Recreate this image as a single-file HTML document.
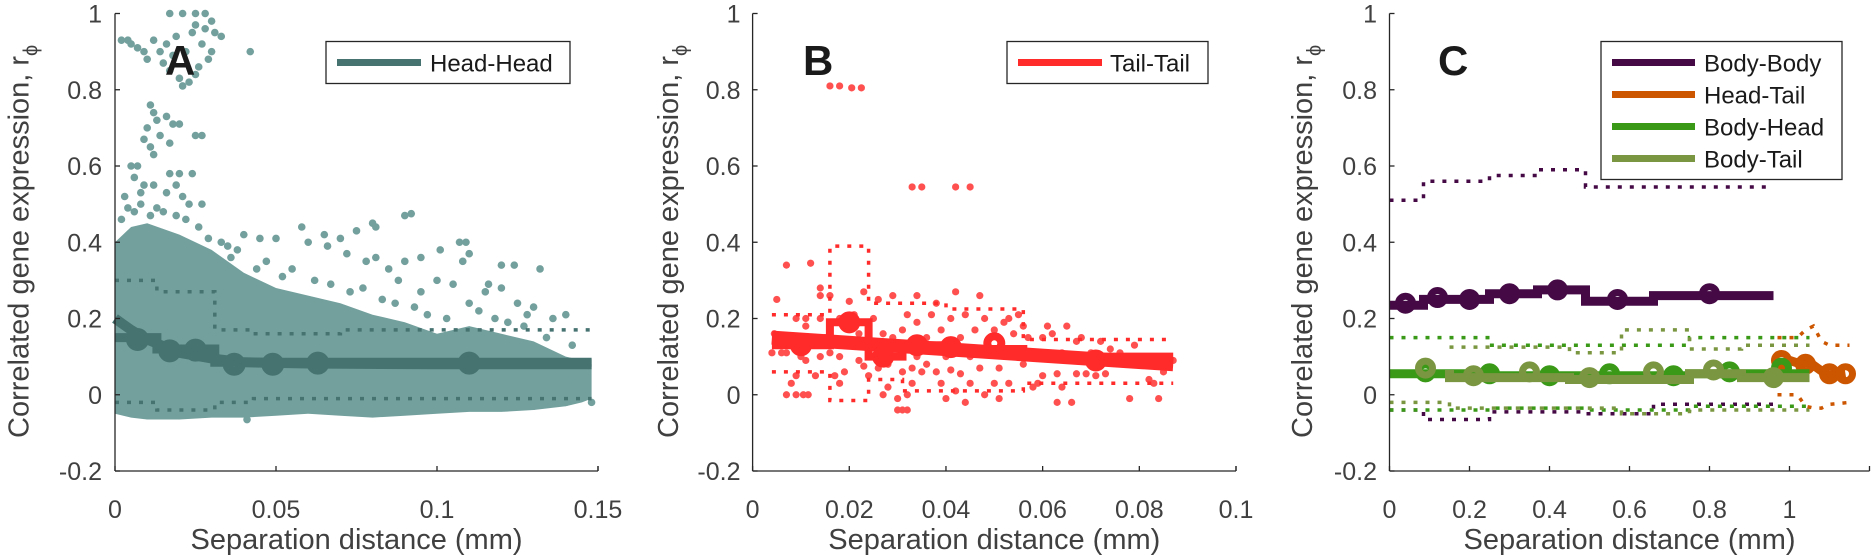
<!DOCTYPE html>
<html><head><meta charset="utf-8"><style>
html,body{margin:0;padding:0;background:#fff}
svg{display:block;font-family:"Liberation Sans",Arial,sans-serif}
</style></head><body>
<svg id="fig" width="1874" height="556" viewBox="0 0 1874 556" xmlns="http://www.w3.org/2000/svg"></svg>
<script>
// ---------- DATA ----------
const yTicks=[-0.2,0,0.2,0.4,0.6,0.8,1];
const yTickLabels=["-0.2","0","0.2","0.4","0.6","0.8","1"];
const aXTicks=[0,0.05,0.1,0.15];
const aXTickLabels=["0","0.05","0.1","0.15"];
const bXTicks=[0,0.02,0.04,0.06,0.08,0.1];
const bXTickLabels=["0","0.02","0.04","0.06","0.08","0.1"];
const cXTicks=[0,0.2,0.4,0.6,0.8,1];
const cXTickLabels=["0","0.2","0.4","0.6","0.8","1"];

// Panel A dense cloud envelope
const aCloudX=[0,0.005,0.01,0.02,0.03,0.04,0.05,0.06,0.07,0.08,0.09,0.1,0.11,0.12,0.13,0.14,0.145,0.148];
const aCloudHi=[0.4,0.44,0.45,0.42,0.38,0.32,0.28,0.26,0.24,0.21,0.19,0.16,0.18,0.16,0.14,0.1,0.09,0.08];
const aCloudLo=[-0.05,-0.06,-0.065,-0.065,-0.06,-0.06,-0.055,-0.05,-0.055,-0.06,-0.055,-0.05,-0.045,-0.045,-0.04,-0.03,-0.02,-0.01];
const aPtsX=[0.002,0.004,0.005,0.007,0.009,0.01,0.012,0.014,0.015,0.016,0.018,0.017,0.02,0.021,0.023,0.025,0.022,0.024,0.025,0.027,0.028,0.03,0.031,0.03,0.029,0.017,0.021,0.025,0.028,0.019,0.033,0.042,0.026,
0.011,0.012,0.013,0.01,0.014,0.016,0.018,0.009,0.011,0.012,0.017,0.025,0.027,0.02,0.005,0.007,0.017,0.02,0.024,0.006,0.009,0.012,0.016,0.023,0.027,0.003,0.008,0.019,0.021,
0.058,0.065,0.07,0.075,0.08,0.081,0.09,0.092,0.081,0.09,0.095,0.101,0.107,0.109,0.108,0.11,0.12,0.124,0.132,0.1,0.105,0.115,0.12,0.11,0.125,0.13,0.14,0.136,0.128,0.116,0.088,0.095,0.085,0.078,0.072,0.066,0.06,0.05,0.045,0.04,0.035,0.148,0.14,0.143,0.138,0.146,0.125,0.041,0.13,
0.002,0.004,0.006,0.008,0.011,0.013,0.015,0.019,0.022,0.026,0.029,0.033,0.036,0.038,0.044,0.047,0.052,0.055,0.062,0.067,0.073,0.077,0.083,0.087,0.093,0.097,0.103,0.113,0.118,0.122,0.127,0.134,0.142];
const aPtsY=[0.93,0.93,0.92,0.91,0.9,0.88,0.93,0.9,0.87,0.92,0.89,0.85,0.83,0.81,0.82,0.84,0.9,0.95,0.97,0.92,0.96,0.98,0.95,0.9,0.88,1.0,1.0,1.0,1.0,0.94,0.94,0.9,0.86,
0.76,0.74,0.72,0.7,0.68,0.73,0.71,0.67,0.65,0.63,0.66,0.68,0.68,0.71,0.6,0.6,0.58,0.58,0.58,0.57,0.55,0.55,0.53,0.5,0.5,0.52,0.53,0.55,0.52,
0.44,0.42,0.41,0.43,0.45,0.44,0.47,0.475,0.36,0.35,0.36,0.38,0.4,0.4,0.35,0.37,0.34,0.34,0.33,0.3,0.29,0.27,0.28,0.24,0.24,0.23,0.21,0.2,0.21,0.29,0.3,0.27,0.33,0.35,0.37,0.39,0.4,0.41,0.41,0.42,0.39,-0.02,-0.02,0.03,0.05,0.07,0.03,-0.065,-0.03,
0.46,0.49,0.48,0.5,0.47,0.49,0.48,0.47,0.46,0.44,0.41,0.4,0.36,0.38,0.33,0.35,0.31,0.33,0.3,0.29,0.27,0.28,0.25,0.24,0.23,0.21,0.2,0.22,0.2,0.19,0.18,0.15,0.13];
const aMeanX=[0,0.005,0.01,0.02,0.03,0.04,0.06,0.1,0.148];
const aMeanY=[0.2,0.17,0.145,0.11,0.095,0.085,0.082,0.08,0.08];
const aStepX=[0,0.013,0.013,0.031,0.031,0.148];
const aStepY=[0.15,0.15,0.12,0.12,0.085,0.085];
const aCircX=[0.007,0.017,0.025,0.037,0.049,0.063,0.11];
const aCircY=[0.145,0.115,0.117,0.08,0.08,0.083,0.083];
const aUpX=[0,0.013,0.013,0.031,0.031,0.043,0.043,0.07,0.07,0.148];
const aUpY=[0.3,0.3,0.27,0.27,0.17,0.17,0.16,0.16,0.17,0.17];
const aLoX=[0,0.013,0.013,0.031,0.031,0.043,0.043,0.148];
const aLoY=[-0.02,-0.02,-0.04,-0.04,-0.02,-0.02,-0.01,-0.01];

// Panel B
const bPtsX=[0.005,0.007,0.012,0.0045,0.005,0.004,0.006,0.007,0.009,0.011,0.011,0.01,0.009,0.01,0.011,0.009,0.008,0.007,0.009,0.0105,0.0115,0.013,0.014,0.014,0.014,0.014,0.015,0.016,0.016,0.017,0.018,0.018,0.018,0.019,0.02,0.02,0.021,0.022,0.022,0.023,0.023,0.024,0.024,0.025,0.025,0.026,0.026,0.027,0.027,0.028,0.028,0.029,0.029,0.03,0.03,0.031,0.031,0.032,0.032,0.033,0.033,0.034,0.034,0.034,0.035,0.036,0.036,0.037,0.037,0.038,0.038,0.039,0.039,0.04,0.04,0.041,0.041,0.042,0.042,0.043,0.043,0.044,0.044,0.045,0.045,0.046,0.047,0.047,0.048,0.048,0.049,0.05,0.05,0.051,0.051,0.052,0.053,0.053,0.054,0.055,0.056,0.056,0.057,0.058,0.059,0.06,0.06,0.061,0.062,0.063,0.063,0.064,0.064,0.065,0.066,0.067,0.067,0.068,0.069,0.07,0.071,0.072,0.073,0.074,0.075,0.076,0.078,0.079,0.08,0.082,0.083,0.084,0.085,0.087,0.03,0.031,0.032,
0.016,0.018,0.0205,0.0225,0.033,0.035,0.042,0.045];
const bPtsY=[0.25,0.34,0.345,0.16,0.14,0.11,0.11,0.11,0.2,0.2,0.18,0.15,0.12,0.1,0.09,0.05,0.03,0.0,0.0,0.0,0.0,0.05,0.1,0.2,0.26,0.28,0.15,0.11,0.26,0.05,0.03,0.2,0.1,0.06,0.13,0.245,0.21,0.09,0.16,0.27,0.075,0.13,0.05,0.2,0.1,0.07,0.25,0.0,0.16,0.02,0.08,0.26,0.15,0.12,-0.01,0.06,0.17,0.21,0.0,0.07,0.03,0.1,0.26,0.19,0.06,0.15,0.08,0.21,0.12,0.24,0.06,0.03,0.17,-0.01,0.1,0.2,0.065,0.27,0.01,0.15,0.055,-0.02,0.21,0.1,0.03,0.17,0.07,0.26,0.0,0.2,0.12,0.03,0.17,0.07,-0.01,0.19,0.2,0.03,0.16,0.21,0.18,0.08,0.15,0.02,0.03,0.15,0.05,0.18,0.16,-0.02,0.055,0.11,0.02,0.18,-0.02,0.14,0.055,0.15,0.055,0.11,0.05,0.14,0.055,0.12,0.1,0.11,-0.01,0.13,0.1,0.04,0.03,-0.01,0.06,0.09,-0.04,-0.04,-0.04,
0.81,0.81,0.805,0.805,0.545,0.545,0.545,0.545];
const bMeanX=[0.004,0.087];
const bMeanY=[0.15,0.08];
const bStepX=[0.004,0.016,0.016,0.024,0.024,0.031,0.031,0.04,0.04,0.056,0.056,0.087];
const bStepY=[0.13,0.13,0.19,0.19,0.1,0.1,0.13,0.13,0.12,0.12,0.1,0.1];
const bCircX=[0.01,0.02,0.027,0.034,0.041,0.05,0.071];
const bCircY=[0.13,0.19,0.1,0.13,0.125,0.135,0.09];
const bUpX=[0.004,0.016,0.016,0.024,0.024,0.031,0.031,0.04,0.04,0.056,0.056,0.087];
const bUpY=[0.21,0.21,0.39,0.39,0.24,0.24,0.24,0.24,0.225,0.225,0.145,0.145];
const bLoX=[0.004,0.016,0.016,0.024,0.024,0.031,0.031,0.04,0.04,0.056,0.056,0.087];
const bLoY=[0.06,0.06,-0.015,-0.015,0.04,0.04,0.01,0.01,0.01,0.01,0.03,0.03];

// Panel C
const cSeriesNames=["Body-Body","Head-Tail","Body-Head","Body-Tail"];
const cColors=["#450a45","#cc5500","#3a9a18","#7b9640"];
const bbStepX=[0,0.085,0.085,0.25,0.25,0.37,0.37,0.49,0.49,0.66,0.66,0.96];
const bbStepY=[0.235,0.235,0.25,0.25,0.265,0.265,0.275,0.275,0.245,0.245,0.26,0.26];
const bbCircX=[0.04,0.12,0.2,0.3,0.42,0.57,0.8];
const bbCircY=[0.24,0.255,0.25,0.265,0.275,0.25,0.265];
const bbUpY=[0.51,0.51,0.56,0.56,0.575,0.575,0.59,0.59,0.545,0.545,0.545,0.545];
const bbLoY=[-0.04,-0.04,-0.065,-0.065,-0.045,-0.045,-0.045,-0.045,-0.05,-0.05,-0.025,-0.025];
const bhStepX=[0,0.25,0.25,0.5,0.5,0.75,0.75,1.05];
const bhStepY=[0.055,0.055,0.05,0.05,0.05,0.05,0.055,0.055];
const bhCircX=[0.09,0.25,0.4,0.55,0.71,0.85,0.98];
const bhCircY=[0.06,0.055,0.05,0.055,0.05,0.06,0.07];
const bhUpY=[0.15,0.15,0.13,0.13,0.13,0.13,0.15,0.15];
const bhLoY=[-0.04,-0.04,-0.035,-0.035,-0.04,-0.04,-0.03,-0.03];
const btStepX=[0.15,0.15,0.45,0.45,0.75,0.75,0.88,0.88,1.05];
const btStepY=[0.065,0.045,0.045,0.04,0.04,0.055,0.055,0.045,0.045];
const btCircX=[0.09,0.21,0.35,0.5,0.66,0.81,0.96];
const btCircY=[0.07,0.05,0.06,0.045,0.06,0.065,0.045];
const btUpX=[0.15,0.45,0.45,0.58,0.58,0.75,0.75,0.88,0.88,1.05];
const btUpY=[0.125,0.125,0.11,0.11,0.17,0.17,0.12,0.12,0.13,0.13];
const btLoX=[0,0.15,0.15,0.45,0.45,0.58,0.58,0.75,0.75,1.05];
const btLoY=[-0.02,-0.02,-0.035,-0.035,-0.035,-0.035,-0.05,-0.05,-0.04,-0.04];
const htX=[0.97,1.0,1.03,1.05,1.07,1.09,1.11,1.14];
const htY=[0.075,0.09,0.08,0.085,0.07,0.055,0.05,0.055];
const htCircX=[0.98,1.04,1.1,1.14];
const htCircY=[0.09,0.08,0.055,0.055];
const htUpX=[0.97,1.02,1.04,1.06,1.08,1.1,1.15];
const htUpY=[0.15,0.15,0.17,0.18,0.14,0.13,0.13];
const htLoX=[0.97,1.02,1.04,1.06,1.08,1.1,1.15];
const htLoY=[0.0,0.0,-0.03,-0.035,-0.035,-0.025,-0.02];

// ---------- DRAW ----------
const NS="http://www.w3.org/2000/svg";
const svg=document.getElementById('fig');
function mk(tag,attrs,parent){const e=document.createElementNS(NS,tag);for(const k in attrs)e.setAttribute(k,attrs[k]);(parent||svg).appendChild(e);return e;}
const Y0=471,Y1=13.5;
function sy(v){return Y0+(v+0.2)/1.2*(Y1-Y0);}
function axisFn(x0,x1,d0,d1){return v=>x0+(v-d0)/(d1-d0)*(x1-x0);}
function pathFrom(xs,ys,sx){return xs.map((x,i)=>(i?'L':'M')+sx(x).toFixed(1)+' '+sy(ys[i]).toFixed(1)).join(' ');}

function drawAxes(g,sx,xmin,xmax,xt,xtl,labelRight,ylabelX,name){
  const ax=mk('g',{},g);
  
  
  mk('line',{x1:sx(xmin),y1:Y0,x2:sx(xmax),y2:Y0,stroke:'#262626','stroke-width':1.3},ax);
  mk('line',{x1:sx(xmin),y1:Y0,x2:sx(xmin),y2:Y1,stroke:'#262626','stroke-width':1.3},ax);
  yTicks.forEach((v,i)=>{
    mk('line',{x1:sx(xmin),y1:sy(v),x2:sx(xmin)+5,y2:sy(v),stroke:'#262626','stroke-width':1.3},ax);
    const t=mk('text',{x:labelRight,y:sy(v)+9,'text-anchor':'end','font-size':25,fill:'#404040'},ax);
    t.textContent=yTickLabels[i];
    
    
  });
  xt.forEach((v,i)=>{
    mk('line',{x1:sx(v),y1:Y0,x2:sx(v),y2:Y0-5,stroke:'#262626','stroke-width':1.3},ax);
    const t=mk('text',{x:sx(v),y:518,'text-anchor':'middle','font-size':25,fill:'#404040'},ax);
    t.textContent=xtl[i];
    
    
  });
  mk('line',{x1:sx(xmax),y1:Y0,x2:sx(xmax),y2:Y0-5,stroke:'#262626','stroke-width':1.3},ax);
  const xl=mk('text',{x:(sx(xmin)+sx(xmax))/2,y:549,'text-anchor':'middle','font-size':29,fill:'#404040'},ax);
  xl.textContent='Separation distance (mm)';
  
  
  const yl=mk('text',{x:0,y:0,'font-size':29,fill:'#404040',transform:`translate(${ylabelX},438) rotate(-90)`},ax);
  yl.innerHTML='Correlated gene expression, r<tspan font-size="20" dy="9">ϕ</tspan>';
  
  
}
function panelLetter(g,x,txt){
  const t=mk('text',{x:x,y:75,'font-size':42,'font-weight':'bold',fill:'#1a1a1a'},g);
  t.textContent=txt;
  
  
}
function legend(g,x0,x1,y0,rows,lineX0,lineX1,textX){
  const lg=mk('g',{},g);
  
  
  mk('rect',{x:x0,y:y0,width:x1-x0,height:rows.length*32+10,fill:'#fff',stroke:'#262626','stroke-width':1.3},lg);
  rows.forEach((r,i)=>{
    const yy=y0+21+i*32;
    const en=mk('g',{},lg);
    
    
    mk('line',{x1:lineX0,y1:yy,x2:lineX1,y2:yy,stroke:r[1],'stroke-width':7},en);
    const t=mk('text',{x:textX,y:yy+9,'font-size':24,fill:'#1a1a1a'},en);
    t.textContent=r[0];
  });
}
function circles(g,xs,ys,sx,col,r,sw,name){
  xs.forEach((x,i)=>{
    const c=mk('circle',{cx:sx(x),cy:sy(ys[i]),r:r,fill:'none',stroke:col,'stroke-width':sw},g);
    
    
  });
}
function dotted(g,xs,ys,sx,col,name){
  const p=mk('path',{d:pathFrom(xs,ys,sx),fill:'none',stroke:col,'stroke-width':3.5,'stroke-dasharray':'4 8'},g);
  
  
}

// ---- Panel A ----
const gA=mk('g',{});


const sxA=axisFn(115,598,0,0.15);
const cA='#73a09d', dA='#467270';
let cd=pathFrom(aCloudX,aCloudHi,sxA);
for(let i=aCloudX.length-1;i>=0;i--)cd+=' L'+sxA(aCloudX[i]).toFixed(1)+' '+sy(aCloudLo[i]).toFixed(1);
const cloud=mk('path',{d:cd+' Z',fill:cA},gA);


aPtsX.forEach((x,i)=>{
  const c=mk('circle',{cx:sxA(x),cy:sy(aPtsY[i]),r:3.8,fill:cA},gA);
  
  
});
dotted(gA,aUpX,aUpY,sxA,dA,'upper-bound-line');
dotted(gA,aLoX,aLoY,sxA,dA,'lower-bound-line');
const sA=mk('path',{d:pathFrom(aStepX,aStepY,sxA),fill:'none',stroke:dA,'stroke-width':9},gA);


const mA=mk('path',{d:pathFrom(aMeanX,aMeanY,sxA),fill:'none',stroke:dA,'stroke-width':10,'stroke-linejoin':'round'},gA);


circles(gA,aCircX,aCircY,sxA,dA,7,9,'bin-marker');
drawAxes(gA,sxA,0,0.15,aXTicks,aXTickLabels,102,28.5,'panel-a');
panelLetter(gA,165,'A');
legend(gA,326,570,41.5,[['Head-Head',dA]],337,421,430);

// ---- Panel B ----
const gB=mk('g',{});


const sxB=axisFn(752.6,1236,0,0.1);
const cB='#ff5050', dB='#ff2a2a';
bPtsX.forEach((x,i)=>{
  const c=mk('circle',{cx:sxB(x),cy:sy(bPtsY[i]),r:3.6,fill:cB},gB);
  
  
});
dotted(gB,bUpX,bUpY,sxB,dB,'upper-bound-line');
dotted(gB,bLoX,bLoY,sxB,dB,'lower-bound-line');
const sB=mk('path',{d:pathFrom(bStepX,bStepY,sxB),fill:'none',stroke:dB,'stroke-width':8},gB);


const mB=mk('path',{d:pathFrom(bMeanX,bMeanY,sxB),fill:'none',stroke:dB,'stroke-width':14},gB);


circles(gB,bCircX,bCircY,sxB,dB,7,8,'bin-marker');
drawAxes(gB,sxB,0,0.1,bXTicks,bXTickLabels,740.5,678,'panel-b');
panelLetter(gB,803,'B');
legend(gB,1007,1208,41.5,[['Tail-Tail',dB]],1018,1102,1110);

// ---- Panel C ----
const gC=mk('g',{});


const sxC=axisFn(1389.5,1789.5,0,1);
dotted(gC,bbStepX,bbUpY,sxC,cColors[0],'body-body-upper-bound');
dotted(gC,bbStepX,bbLoY,sxC,cColors[0],'body-body-lower-bound');
dotted(gC,bhStepX,bhUpY,sxC,cColors[2],'body-head-upper-bound');
dotted(gC,bhStepX,bhLoY,sxC,cColors[2],'body-head-lower-bound');
dotted(gC,btUpX,btUpY,sxC,cColors[3],'body-tail-upper-bound');
dotted(gC,btLoX,btLoY,sxC,cColors[3],'body-tail-lower-bound');
dotted(gC,htUpX,htUpY,sxC,cColors[1],'head-tail-upper-bound');
dotted(gC,htLoX,htLoY,sxC,cColors[1],'head-tail-lower-bound');
function series(xs,ys,col,name){
  const p=mk('path',{d:pathFrom(xs,ys,sxC),fill:'none',stroke:col,'stroke-width':9},gC);
  
  
}
series(bbStepX,bbStepY,cColors[0],'body-body-line');
circles(gC,bbCircX,bbCircY,sxC,cColors[0],7,7,'body-body-marker');
series(htX,htY,cColors[1],'head-tail-line');
circles(gC,htCircX,htCircY,sxC,cColors[1],7,7,'head-tail-marker');
series(bhStepX,bhStepY,cColors[2],'body-head-line');
circles(gC,bhCircX,bhCircY,sxC,cColors[2],7,7,'body-head-marker');
series(btStepX,btStepY,cColors[3],'body-tail-line');
circles(gC,btCircX,btCircY,sxC,cColors[3],7,7,'body-tail-marker');
drawAxes(gC,sxC,0,1.2,cXTicks,cXTickLabels,1377,1312,'panel-c');
panelLetter(gC,1438,'C');
legend(gC,1601,1842,41.5,cSeriesNames.map((n,i)=>[n,cColors[i]]),1612,1695,1704);
</script>
</body></html>
